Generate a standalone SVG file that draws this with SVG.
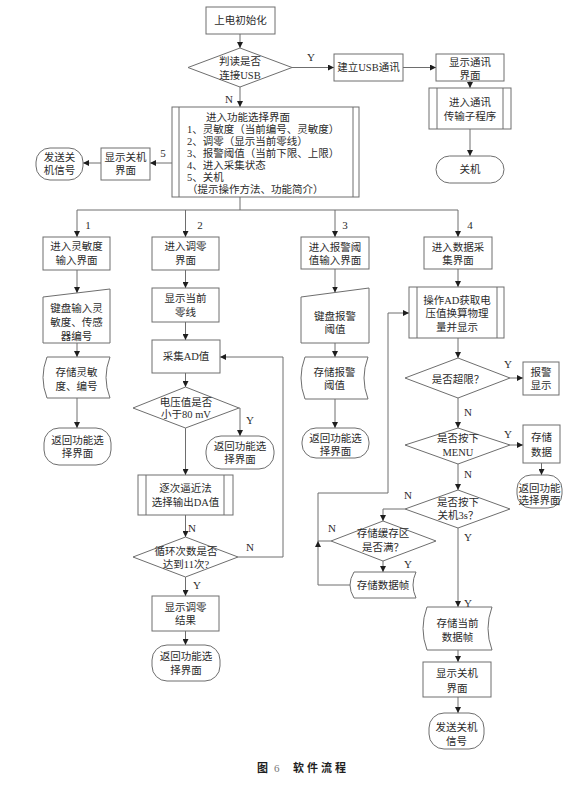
<svg xmlns="http://www.w3.org/2000/svg" width="587" height="805" viewBox="0 0 587 805">
<defs>
<style>
.s{fill:#fff;stroke:#6e6e6e;stroke-width:1}
.l{fill:none;stroke:#6e6e6e;stroke-width:1}
.t{font-family:"Liberation Serif","Noto Sans CJK SC",serif;font-size:10.5px;fill:#2b2b2b;text-anchor:middle;dominant-baseline:central}
.ts{text-anchor:start}
.lb{font-family:"Liberation Serif","Noto Sans CJK SC",serif;font-size:11px;fill:#2b2b2b;text-anchor:middle;dominant-baseline:central}
.cap{font-family:"Liberation Serif","Noto Sans CJK SC",serif;font-size:11px;font-weight:bold;fill:#1e1e1e;dominant-baseline:central}
</style>
<marker id="a" markerWidth="6" markerHeight="6" refX="6" refY="3" orient="auto" markerUnits="userSpaceOnUse">
<path d="M0,0 L6,3 L0,6 z" fill="#1e1e1e"/>
</marker>
</defs>
<rect width="587" height="805" fill="#fff"/>

<g id="connectors">
<line class="l" x1="240" y1="34" x2="240" y2="48" marker-end="url(#a)"/>
<line class="l" x1="292" y1="67.5" x2="334" y2="67.5" marker-end="url(#a)"/>
<line class="l" x1="403" y1="67.5" x2="436" y2="67.5" marker-end="url(#a)"/>
<line class="l" x1="470" y1="81" x2="470" y2="88" marker-end="url(#a)"/>
<line class="l" x1="470" y1="129" x2="470" y2="156" marker-end="url(#a)"/>
<line class="l" x1="240" y1="87" x2="240" y2="107" marker-end="url(#a)"/>
<line class="l" x1="172" y1="163" x2="150" y2="163" marker-end="url(#a)"/>
<line class="l" x1="101" y1="163" x2="83" y2="163" marker-end="url(#a)"/>
<polyline class="l" points="240,197 240,210"/>
<polyline class="l" points="77,210 458,210"/>
<line class="l" x1="77" y1="210" x2="77" y2="237" marker-end="url(#a)"/>
<line class="l" x1="185.5" y1="210" x2="185.5" y2="237" marker-end="url(#a)"/>
<line class="l" x1="335" y1="210" x2="335" y2="237" marker-end="url(#a)"/>
<line class="l" x1="458" y1="210" x2="458" y2="237" marker-end="url(#a)"/>
<line class="l" x1="77" y1="270" x2="77" y2="293" marker-end="url(#a)"/>
<line class="l" x1="77" y1="343" x2="77" y2="357" marker-end="url(#a)"/>
<line class="l" x1="77" y1="398" x2="77" y2="428" marker-end="url(#a)"/>
<line class="l" x1="185.5" y1="270" x2="185.5" y2="288" marker-end="url(#a)"/>
<line class="l" x1="185.5" y1="322" x2="185.5" y2="340" marker-end="url(#a)"/>
<line class="l" x1="185.5" y1="373" x2="185.5" y2="387" marker-end="url(#a)"/>
<polyline class="l" points="239,408 240,408 240,436" marker-end="url(#a)"/>
<line class="l" x1="185.5" y1="428" x2="185.5" y2="475" marker-end="url(#a)"/>
<line class="l" x1="185.5" y1="515" x2="185.5" y2="537" marker-end="url(#a)"/>
<polyline class="l" points="238,557 283,557 283,357 220,357" marker-end="url(#a)"/>
<line class="l" x1="185.5" y1="577" x2="185.5" y2="596" marker-end="url(#a)"/>
<line class="l" x1="185.5" y1="631" x2="185.5" y2="645" marker-end="url(#a)"/>
<line class="l" x1="335" y1="269" x2="335" y2="292.5" marker-end="url(#a)"/>
<line class="l" x1="335" y1="343" x2="335" y2="357" marker-end="url(#a)"/>
<line class="l" x1="335" y1="399" x2="335" y2="428" marker-end="url(#a)"/>
<line class="l" x1="458" y1="269" x2="458" y2="287" marker-end="url(#a)"/>
<line class="l" x1="458" y1="338" x2="458" y2="358" marker-end="url(#a)"/>
<line class="l" x1="510" y1="378" x2="523" y2="378" marker-end="url(#a)"/>
<line class="l" x1="458" y1="398" x2="458" y2="428" marker-end="url(#a)"/>
<line class="l" x1="510" y1="445" x2="523" y2="445" marker-end="url(#a)"/>
<line class="l" x1="541.5" y1="463" x2="541.5" y2="475" marker-end="url(#a)"/>
<line class="l" x1="458" y1="464" x2="458" y2="490" marker-end="url(#a)"/>
<polyline class="l" points="405,509 383,509 383,521" marker-end="url(#a)"/>
<polyline class="l" points="331,541 318,541"/>
<line class="l" x1="383" y1="561" x2="383" y2="572" marker-end="url(#a)"/>
<polyline class="l" points="350,585 318,585 318,541" marker-end="url(#a)"/>
<polyline class="l" points="318,541 318,493 388,493 388,313 409,313" marker-end="url(#a)"/>
<line class="l" x1="458" y1="528" x2="458" y2="607" marker-end="url(#a)"/>
<line class="l" x1="458" y1="650" x2="458" y2="662" marker-end="url(#a)"/>
<line class="l" x1="458" y1="697" x2="458" y2="713" marker-end="url(#a)"/>
<g id="connector-labels">
<text class="lb" x="311" y="57">Y</text>
<text class="lb" x="229" y="99">N</text>
<text class="lb" x="163" y="153">5</text>
<text class="lb" x="88" y="225">1</text>
<text class="lb" x="200" y="225">2</text>
<text class="lb" x="345" y="225">3</text>
<text class="lb" x="470" y="225">4</text>
<text class="lb" x="250" y="420">Y</text>
<text class="lb" x="192" y="528">N</text>
<text class="lb" x="250" y="547">N</text>
<text class="lb" x="197" y="585">Y</text>
<text class="lb" x="508" y="364">Y</text>
<text class="lb" x="468" y="412">N</text>
<text class="lb" x="508" y="434">Y</text>
<text class="lb" x="468" y="474">N</text>
<text class="lb" x="408" y="495">N</text>
<text class="lb" x="332" y="528">N</text>
<text class="lb" x="408" y="564">Y</text>
<text class="lb" x="468" y="537">Y</text>
<text class="lb" x="468" y="603">Y</text>
</g>
</g>

<g id="n-init"><rect class="s" x="206" y="7" width="69" height="27"/><text class="t" x="240.5" y="20.5">上电初始化</text></g>
<g id="n-usb-check"><polygon class="s" points="240,48 292,67.5 240,87 188,67.5"/><text class="t" x="240" y="61">判读是否</text><text class="t" x="240" y="75">连接USB</text></g>
<g id="n-usb-setup"><rect class="s" x="334" y="54" width="69" height="27"/><text class="t" x="368.5" y="67.5">建立USB通讯</text></g>
<g id="n-usb-show"><rect class="s" x="436" y="54" width="68" height="27"/><text class="t" x="470" y="62">显示通讯</text><text class="t" x="470" y="75">界面</text></g>
<g id="n-usb-sub"><rect class="s" x="429" y="88" width="82" height="41"/><line class="l" x1="437" y1="88" x2="437" y2="129"/><line class="l" x1="503" y1="88" x2="503" y2="129"/><text class="t" x="470" y="102">进入通讯</text><text class="t" x="470" y="116">传输子程序</text></g>
<g id="n-off1"><rect class="s" x="436" y="156" width="68" height="27" rx="13.5"/><text class="t" x="470" y="169.5">关机</text></g>

<g id="n-menu"><rect class="s" x="172" y="107" width="187" height="90"/><line class="l" x1="179" y1="107" x2="179" y2="197"/><line class="l" x1="353" y1="107" x2="353" y2="197"/>
<text class="t ts" x="206" y="117">进入功能选择界面</text>
<text class="t ts" x="187" y="129">1、灵敏度（当前编号、灵敏度）</text>
<text class="t ts" x="187" y="141">2、调零（显示当前零线）</text>
<text class="t ts" x="187" y="153">3、报警阈值（当前下限、上限）</text>
<text class="t ts" x="187" y="165">4、进入采集状态</text>
<text class="t ts" x="187" y="177">5、关机</text>
<text class="t ts" x="187" y="189">（提示操作方法、功能简介）</text></g>
<g id="n-showoff-l"><rect class="s" x="101" y="148" width="49" height="32"/><text class="t" x="125.5" y="157">显示关机</text><text class="t" x="125.5" y="170">界面</text></g>
<g id="n-sendoff-l"><rect class="s" x="36" y="148" width="47" height="32" rx="14"/><text class="t" x="59.5" y="157">发送关</text><text class="t" x="59.5" y="170">机信号</text></g>

<g id="n-sens"><rect class="s" x="43" y="237" width="67" height="33"/><text class="t" x="76.5" y="246">进入灵敏度</text><text class="t" x="76.5" y="260">输入界面</text></g>
<g id="n-sens-in"><polygon class="s" points="43,297 110,289 110,343 43,343"/><text class="t" x="76.5" y="308">键盘输入灵</text><text class="t" x="76.5" y="322">敏度、传感</text><text class="t" x="76.5" y="336">器编号</text></g>
<g id="n-sens-store"><path class="s" d="M47,357 H110 Q102,377.5 110,398 H47 Q39,377.5 47,357 Z"/><text class="t" x="76.5" y="372">存储灵敏</text><text class="t" x="76.5" y="386">度、编号</text></g>
<g id="n-sens-ret"><rect class="s" x="44" y="428" width="67" height="37" rx="15"/><text class="t" x="77.5" y="440">返回功能选</text><text class="t" x="77.5" y="453">择界面</text></g>

<g id="n-zero"><rect class="s" x="152" y="237" width="67" height="33"/><text class="t" x="185.5" y="246">进入调零</text><text class="t" x="185.5" y="260">界面</text></g>
<g id="n-zero-show"><rect class="s" x="152" y="288" width="67" height="34"/><text class="t" x="185.5" y="298">显示当前</text><text class="t" x="185.5" y="312">零线</text></g>
<g id="n-ad"><rect class="s" x="152" y="340" width="68" height="33"/><text class="t" x="186" y="356.5">采集AD值</text></g>
<g id="n-volt"><polygon class="s" points="185.5,387 239,408 185.5,428 133,408"/><text class="t" x="186" y="402">电压值是否</text><text class="t" x="186" y="414">小于80 mV</text></g>
<g id="n-zero-ret1"><rect class="s" x="206" y="436" width="68" height="33" rx="15"/><text class="t" x="240" y="446">返回功能选</text><text class="t" x="240" y="459">择界面</text></g>
<g id="n-approx"><rect class="s" x="138" y="475" width="95" height="40"/><line class="l" x1="146" y1="475" x2="146" y2="515"/><line class="l" x1="224" y1="475" x2="224" y2="515"/><text class="t" x="185.5" y="488">逐次逼近法</text><text class="t" x="185.5" y="502">选择输出DA值</text></g>
<g id="n-loop"><polygon class="s" points="185.5,537 238,557 185.5,577 133,557"/><text class="t" x="186" y="551">循环次数是否</text><text class="t" x="186" y="564">达到11次?</text></g>
<g id="n-zero-res"><rect class="s" x="152" y="596" width="67" height="35"/><text class="t" x="185.5" y="607">显示调零</text><text class="t" x="185.5" y="620">结果</text></g>
<g id="n-zero-ret2"><rect class="s" x="152" y="645" width="68" height="36" rx="15"/><text class="t" x="186" y="656">返回功能选</text><text class="t" x="186" y="670">择界面</text></g>

<g id="n-alarm"><rect class="s" x="301" y="237" width="68" height="32"/><text class="t" x="335" y="247">进入报警阈</text><text class="t" x="335" y="260">值输入界面</text></g>
<g id="n-alarm-in"><polygon class="s" points="301,297 369,288 369,343 301,343"/><text class="t" x="335" y="316">键盘报警</text><text class="t" x="335" y="329">阈值</text></g>
<g id="n-alarm-store"><path class="s" d="M305,357 H368 Q360,378 368,399 H305 Q297,378 305,357 Z"/><text class="t" x="334.5" y="372">存储报警</text><text class="t" x="334.5" y="385">阈值</text></g>
<g id="n-alarm-ret"><rect class="s" x="302" y="428" width="67" height="30" rx="14"/><text class="t" x="335.5" y="438">返回功能选</text><text class="t" x="335.5" y="451">择界面</text></g>

<g id="n-acq"><rect class="s" x="424" y="237" width="68" height="32"/><text class="t" x="458" y="247">进入数据采</text><text class="t" x="458" y="260">集界面</text></g>
<g id="n-acq-op"><rect class="s" x="409" y="287" width="95" height="51"/><line class="l" x1="417" y1="287" x2="417" y2="338"/><line class="l" x1="497" y1="287" x2="497" y2="338"/><text class="t" x="457" y="300">操作AD获取电</text><text class="t" x="457" y="313">压值换算物理</text><text class="t" x="457" y="327">量并显示</text></g>
<g id="n-over"><polygon class="s" points="458,358 510,378 458,398 405,378"/><text class="t" x="458" y="379">是否超限？</text></g>
<g id="n-alarm-show"><rect class="s" x="523" y="362" width="36" height="33"/><text class="t" x="541" y="372">报警</text><text class="t" x="541" y="385">显示</text></g>
<g id="n-menu-key"><polygon class="s" points="458,428 510,445 458,464 405,445"/><text class="t" x="458" y="438">是否按下</text><text class="t" x="458" y="452">MENU</text></g>
<g id="n-store-data"><rect class="s" x="523" y="425" width="37" height="38"/><text class="t" x="541.5" y="437">存储</text><text class="t" x="541.5" y="452">数据</text></g>
<g id="n-acq-ret"><rect class="s" x="517" y="475" width="45" height="33" rx="14"/><text class="t" x="539.5" y="488">返回功能</text><text class="t" x="539.5" y="500">选择界面</text></g>
<g id="n-off-key"><polygon class="s" points="458,490 510,509 458,528 405,509"/><text class="t" x="458" y="502">是否按下</text><text class="t" x="458" y="515">关机3s？</text></g>
<g id="n-buf"><polygon class="s" points="383,521 436,541 383,561 331,541"/><text class="t" x="383" y="533">存储缓存区</text><text class="t" x="383" y="547">是否满？</text></g>
<g id="n-frame"><path class="s" d="M354,572 H416 Q410,585 416,598 H354 Q346,585 354,572 Z"/><text class="t" x="383" y="585">存储数据帧</text></g>
<g id="n-cur-frame"><path class="s" d="M427,607 H492 Q484,628.5 492,650 H427 Q419,628.5 427,607 Z"/><text class="t" x="457.5" y="623">存储当前</text><text class="t" x="457.5" y="637">数据帧</text></g>
<g id="n-showoff-r"><rect class="s" x="423" y="662" width="68" height="35"/><text class="t" x="457" y="673">显示关机</text><text class="t" x="457" y="688">界面</text></g>
<g id="n-sendoff-r"><rect class="s" x="429" y="713" width="55" height="36" rx="15"/><text class="t" x="456.5" y="727">发送关机</text><text class="t" x="456.5" y="741">信号</text></g>

<g id="caption">
<text class="cap" x="257" y="768">图</text>
<text x="274" y="768" style="font-family:'Liberation Serif',serif;font-size:11px;fill:#777;dominant-baseline:central">6</text>
<text class="cap" x="293" y="768" style="letter-spacing:3px">软件流程</text>
</g>
</svg>
